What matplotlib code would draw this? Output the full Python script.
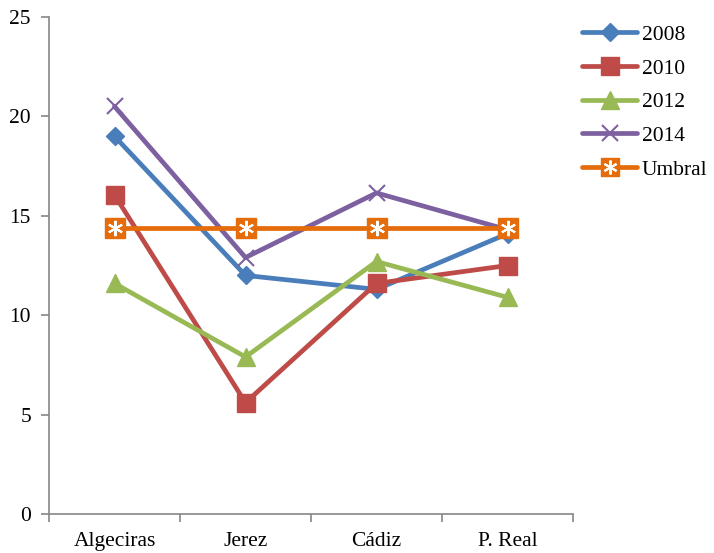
import matplotlib.pyplot as plt
from matplotlib.lines import Line2D

# Datos
ciudades = ['Algeciras', 'Jerez', 'Cádiz', 'P. Real']
v2008 = [19.0, 12.0, 11.3, 14.1]
v2010 = [16.05, 5.6, 11.6, 12.5]
v2012 = [11.6, 7.9, 12.7, 10.9]
v2014 = [20.5, 12.9, 16.15, 14.3]
umbral = [14.4, 14.4, 14.4, 14.4]

plt.rcParams['font.family'] = ['Liberation Serif', 'DejaVu Serif']

fig = plt.figure(figsize=(7.14, 5.53), dpi=100)
ax = fig.add_axes([49 / 714, 39 / 553, 524 / 714, 497 / 553])

x = list(range(len(ciudades)))
lw = 3.4
fs = 15.5

ax.plot(x, v2008, color='#4A7EBB', lw=lw, marker='D', ms=9, label='2008', solid_capstyle='round')
ax.plot(x, v2010, color='#BE4B48', lw=lw, marker='s', ms=13, label='2010', solid_capstyle='round')
ax.plot(x, v2012, color='#98B954', lw=lw, marker='^', ms=13, label='2012', solid_capstyle='round')
ax.plot(x, v2014, color='#7D60A0', lw=lw, marker='x', ms=11, mew=1.5, label='2014', solid_capstyle='round')
ax.plot(x, umbral, color='#E46C0A', lw=lw, marker='s', ms=14, zorder=3, solid_capstyle='round')
ax.plot(x, umbral, ls='none', marker=(6, 2, 0), ms=11, mec='white', mew=1.5, zorder=4)

ax.set_xlim(-0.5, 3.5)
ax.set_ylim(0, 25)
ax.set_yticks([0, 5, 10, 15, 20, 25])
ax.set_xticks(x)
ax.set_xticklabels(ciudades)
ax.set_xticks([-0.5, 0.5, 1.5, 2.5, 3.5], minor=True)
ax.tick_params(axis='x', which='major', length=0, pad=13, labelsize=fs)
ax.tick_params(axis='x', which='minor', length=6, color='#868686', width=1.2)
ax.tick_params(axis='y', length=6, color='#868686', width=1.2, labelsize=fs, pad=7)

for s in ['top', 'right']:
    ax.spines[s].set_visible(False)
for s in ['left', 'bottom']:
    ax.spines[s].set_color('#868686')
    ax.spines[s].set_linewidth(1.2)

# Leyenda
h_umbral = (Line2D([], [], color='#E46C0A', lw=lw, marker='s', ms=13, solid_capstyle='round'),
            Line2D([], [], ls='none', marker=(6, 2, 0), ms=10, mec='white', mew=1.5))
handles, labels = ax.get_legend_handles_labels()
handles.append(h_umbral)
labels.append('Umbral')
fig.legend(handles, labels, loc='upper left', bbox_to_anchor=(563 / 714, 0.99),
           frameon=False, fontsize=fs, handlelength=2.55, labelspacing=0.63,
           handletextpad=0.2)

plt.savefig('out.png', dpi=100)
